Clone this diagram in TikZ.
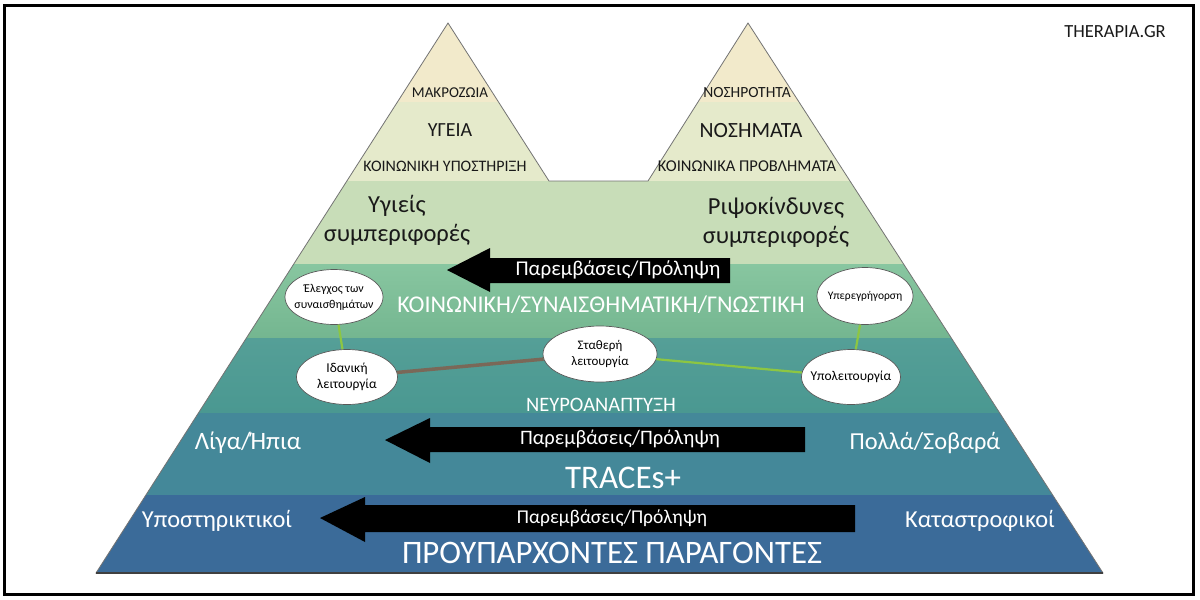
\documentclass[tikz,border=0pt]{standalone}
\usepackage{fontspec}
\setmainfont{Carlito}
\usetikzlibrary{shapes.geometric}
\definecolor{cA}{HTML}{F2EACB}
\definecolor{cB}{HTML}{E5EACB}
\definecolor{cC}{HTML}{C8DDB8}
\definecolor{cDt}{HTML}{88C6A0}
\definecolor{cDb}{HTML}{74B690}
\definecolor{cEt}{HTML}{559F97}
\definecolor{cEb}{HTML}{4A9891}
\definecolor{cF}{HTML}{448899}
\definecolor{cG}{HTML}{3B6B99}
\definecolor{lgreen}{HTML}{8DC642}
\definecolor{lbrown}{HTML}{7A6858}
\newcommand{\fsz}[1]{\fontsize{#1}{#1}\selectfont}
\begin{document}
\begin{tikzpicture}[x=1pt,y=-1pt,
  dark/.style={inner sep=0pt, text=black!90},
  light/.style={inner sep=0pt, text=white},
  fs22/.style={font=\fontsize{24.5}{29}\selectfont},
  bubble/.style={ellipse, draw=black!65, line width=0.7pt, fill=white, inner xsep=-14pt, inner ysep=-6pt, align=center},
  arrowtxt/.style={inner sep=0pt, text=white},
  glink/.style={draw=lgreen, line width=2.2pt},
  blink/.style={draw=lbrown, line width=3.5pt},
]
\useasboundingbox (0,0) rectangle (1200,600);
\fill[white] (0,0) rectangle (1200,600);
% pyramid bands
\begin{scope}
\clip (96,573) -- (448,23) -- (549,181) -- (648,181) -- (748,23) -- (1103,573) -- cycle;
\fill[cA] (0,0) rectangle (1200,102);
\fill[cB] (0,102) rectangle (1200,181);
\fill[cC] (0,181) rectangle (1200,264);
\shade[top color=cDt, bottom color=cDb] (0,264) rectangle (1200,338);
\shade[top color=cEt, bottom color=cEb] (0,338) rectangle (1200,413);
\fill[cF] (0,413) rectangle (1200,495);
\fill[cG] (0,495) rectangle (1200,573);
\end{scope}
\draw[black!55, line width=0.8pt] (96,573) -- (448,23) -- (549,181) -- (648,181) -- (748,23) -- (1103,573) -- cycle;
\draw[black!75, line width=1.2pt] (96,573) -- (1103,573);
% frame
\draw[black, line width=3pt] (4.5,5.5) rectangle (1193.5,594.5);
\node[dark, font=\fsz{18.5}] (brand) at (1115,32) {THERAPIA.GR};
% top texts
\node[dark, font=\fsz{15}] (makro) at (450,93) {ΜΑΚΡΟΖΩΙΑ};
\node[dark, font=\fsz{20}] (ygeia) at (450,130) {ΥΓΕΙΑ};
\node[dark, font=\fsz{16}] (koinyp) at (445,166) {ΚΟΙΝΩΝΙΚΗ ΥΠΟΣΤΗΡΙΞΗ};
\node[dark, font=\fsz{15.5}] (nosir) at (747,93) {ΝΟΣΗΡΟΤΗΤΑ};
\node[dark, font=\fsz{21.7}] (nosim) at (751,131) {ΝΟΣΗΜΑΤΑ};
\node[dark, font=\fsz{16.5}] (koinpr) at (747,166) {ΚΟΙΝΩΝΙΚΑ ΠΡΟΒΛΗΜΑΤΑ};
\node[dark, fs22, align=center] (ygieis) at (397,220) {Υγιείς\\συμπεριφορές};
\node[dark, fs22, align=center] (ripsok) at (776,222) {Ριψοκίνδυνες\\συμπεριφορές};
% arrows
\fill[black] (447,270) -- (490,248) -- (490,258) -- (730,258) -- (730,283) -- (490,283) -- (490,292) -- cycle;
\fill[black] (385,440) -- (430,418) -- (430,427) -- (805,427) -- (805,452) -- (430,452) -- (430,463) -- cycle;
\fill[black] (320,518) -- (365,497) -- (365,505) -- (855,505) -- (855,532) -- (365,532) -- (365,542) -- cycle;
\node[arrowtxt, font=\fsz{21}] (p1) at (618,270) {Παρεμβάσεις/Πρόληψη};
\node[arrowtxt, font=\fsz{20.5}] (p2) at (620,439) {Παρεμβάσεις/Πρόληψη};
\node[arrowtxt, font=\fsz{19.5}] (p3) at (612,518) {Παρεμβάσεις/Πρόληψη};
% band labels
\node[light, font=\fsz{24}] (ksg) at (601,305) {ΚΟΙΝΩΝΙΚΗ/ΣΥΝΑΙΣΘΗΜΑΤΙΚΗ/ΓΝΩΣΤΙΚΗ};
\node[light, font=\fsz{20.5}] (neuro) at (601,405) {ΝΕΥΡΟΑΝΑΠΤΥΞΗ};
\node[light, font=\fsz{25}] (liga) at (248,443) {Λίγα/Ήπια};
\node[light, font=\fsz{24.4}] (polla) at (925,443) {Πολλά/Σοβαρά};
\node[light, font=\fsz{33}] (traces) at (623,478) {TRACEs+};
\node[light, font=\fsz{24.4}] (ypost) at (217,521) {Υποστηρικτικοί};
\node[light, font=\fsz{24.4}] (katas) at (980,521) {Καταστροφικοί};
\node[light, font=\fsz{32.8}] (prou) at (612,553) {ΠΡΟΥΠΑΡΧΟΝΤΕΣ ΠΑΡΑΓΟΝΤΕΣ};
% bubbles
\node[bubble, minimum width=98, minimum height=55, font=\fontsize{12}{16}\selectfont] (elegxos) at (334,297) {Έλεγχος των\\συναισθημάτων};
\node[bubble, minimum width=96, minimum height=57, font=\fsz{11.5}] (yperegr) at (865,296) {Υπερεγρήγορση};
\node[bubble, minimum width=101, minimum height=55, font=\fontsize{13.5}{16}\selectfont] (idaniki) at (347,377) {Ιδανική\\λειτουργία};
\node[bubble, minimum width=114, minimum height=56, font=\fontsize{13}{16}\selectfont] (statheri) at (600,354) {Σταθερή\\λειτουργία};
\node[bubble, minimum width=99, minimum height=55, font=\fsz{13.5}] (ypoleit) at (851,377) {Υπολειτουργία};
% connectors
\draw[glink] (elegxos) -- (idaniki);
\draw[glink] (yperegr) -- (ypoleit);
\draw[blink] (idaniki) -- (statheri);
\draw[glink] (statheri) -- (ypoleit);
\end{tikzpicture}
\end{document}
